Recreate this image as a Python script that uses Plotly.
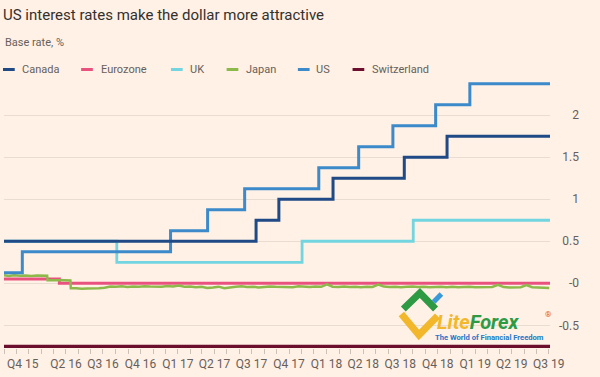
import pandas as pd
import plotly.graph_objects as go

# ---------------- data ----------------
x_start = "2015-11-01"
x_end = "2019-07-04"

canada_dates = ["2015-11-01", "2017-07-12", "2017-09-06", "2018-01-17", "2018-07-11", "2018-10-24", "2019-07-04"]
canada_vals = [0.5, 0.75, 1.0, 1.25, 1.5, 1.75, 1.75]

eurozone_dates = ["2015-11-01", "2016-03-16", "2019-07-04"]
eurozone_vals = [0.05, 0.0, 0.0]

uk_dates = ["2015-11-01", "2016-08-04", "2017-11-02", "2018-08-02", "2019-07-04"]
uk_vals = [0.5, 0.25, 0.5, 0.75, 0.75]

us_dates = ["2015-11-01", "2015-12-16", "2016-12-14", "2017-03-15", "2017-06-14", "2017-12-13",
            "2018-03-21", "2018-06-13", "2018-09-26", "2018-12-19", "2019-07-04"]
us_vals = [0.125, 0.375, 0.625, 0.875, 1.125, 1.375, 1.625, 1.875, 2.125, 2.375, 2.375]

swiss_dates = ["2015-11-01", "2019-07-04"]
swiss_vals = [-0.75, -0.75]

japan_early_dates = ["2015-11-01", "2015-11-12", "2015-11-26", "2015-12-10", "2015-12-24", "2016-01-07",
                     "2016-01-21", "2016-02-04", "2016-02-15", "2016-02-16", "2016-03-01", "2016-03-15",
                     "2016-03-29", "2016-04-12", "2016-04-13"]
japan_early_vals = [0.095, 0.088, 0.097, 0.090, 0.094, 0.086, 0.092, 0.088, 0.090, 0.035, 0.038,
                    0.032, 0.036, 0.034, -0.058]
japan_late_start = "2016-04-26"
japan_late_vals = [
    -0.060, -0.066, -0.062, -0.063, -0.058, -0.052,
    -0.038, -0.042, -0.036, -0.043, -0.037, -0.041, -0.034, -0.039, -0.043, -0.040,
    -0.031, -0.039, -0.027, -0.041, -0.038, -0.046, -0.041, -0.055, -0.049, -0.040,
    -0.058, -0.046, -0.041, -0.036, -0.045, -0.040, -0.050, -0.043, -0.037, -0.041,
    -0.043, -0.038, -0.046, -0.036, -0.041, -0.045, -0.039, -0.042, -0.012, -0.040,
    -0.044, -0.038, -0.045, -0.041, -0.047, -0.040, -0.043, -0.015, -0.039, -0.044,
    -0.040, -0.046, -0.042, -0.038, -0.045, -0.041, -0.047, -0.043, -0.040, -0.046,
    -0.042, -0.048, -0.044, -0.041, -0.046, -0.043, -0.048, -0.044, -0.018, -0.045,
    -0.049, -0.044, -0.047, -0.020, -0.046, -0.050, -0.052, -0.055]

quarter_tick_dates = ["2016-04-01", "2016-07-01", "2016-10-01", "2017-01-01", "2017-04-01", "2017-07-01",
                      "2017-10-01", "2018-01-01", "2018-04-01", "2018-07-01", "2018-10-01", "2019-01-01",
                      "2019-04-01", "2019-07-01"]
quarter_tick_labels = ["Q2 16", "Q3 16", "Q4 16", "Q1 17", "Q2 17", "Q3 17", "Q4 17", "Q1 18", "Q2 18",
                       "Q3 18", "Q4 18", "Q1 19", "Q2 19", "Q3 19"]
first_label = "Q4 15"

y_range = [-0.77, 2.55]
y_tick_vals = [-0.5, 0, 0.5, 1, 1.5, 2]
y_tick_text = ["-0.5", "-0", "0.5", "1", "1.5", "2"]

legend_names = ["Canada", "Eurozone", "UK", "Japan", "US", "Switzerland"]

# ---------------- styling ----------------
BG = "#FFF1E5"
colors = {
    "Canada": "#1F4A86",
    "Eurozone": "#E9527F",
    "UK": "#72D5DF",
    "Japan": "#8DB94B",
    "US": "#3C8ACA",
    "Switzerland": "#6C0E2E",
}
FONT = "Roboto"
GREY = "#66605C"

W, H = 600, 377
M_L, M_R = 4, 4
PLOT_R = 563.3          # right end of x axis, px
T_PX, B_PX = 69, 348


def px(x):
    # paper coordinates span the area inside the margins
    return (x - M_L) / (W - M_L - M_R)


def py(y):
    return (B_PX - y) / (B_PX - T_PX)


japan_late_dates = pd.date_range(japan_late_start, periods=len(japan_late_vals), freq="14D")
japan_dates = list(pd.to_datetime(japan_early_dates)) + list(japan_late_dates)
japan_vals = japan_early_vals + japan_late_vals

month_ticks = pd.date_range(x_start, "2019-07-01", freq="MS")
qmap = dict(zip(pd.to_datetime(quarter_tick_dates), quarter_tick_labels))
month_text = [qmap.get(d, "") for d in month_ticks]

fig = go.Figure()
series = [
    ("Switzerland", swiss_dates, swiss_vals, "hv", 3.2),
    ("Eurozone", eurozone_dates, eurozone_vals, "hv", 3),
    ("Japan", japan_dates, japan_vals, "linear", 2.5),
    ("UK", uk_dates, uk_vals, "hv", 2.8),
    ("US", us_dates, us_vals, "hv", 3),
    ("Canada", canada_dates, canada_vals, "hv", 3),
]
for name, xd, yd, shape, w in series:
    fig.add_trace(go.Scatter(x=xd, y=yd, mode="lines", name=name,
                             line=dict(color=colors[name], width=w, shape=shape),
                             showlegend=False))
# empty trace that carries the right-hand value axis (labels right-aligned at the page edge)
fig.add_trace(go.Scatter(x=[None], y=[None], xaxis="x2", yaxis="y2", showlegend=False, hoverinfo="skip"))

# custom legend (short line swatches + labels)
leg_line_x = [3, 83, 175, 232, 305, 361]
leg_text_x = [20, 101, 192, 250, 322, 379]
leg_y = 69.5
shapes = []
annotations = []
for name, lx, tx in zip(legend_names, leg_line_x, leg_text_x):
    shapes.append(dict(type="line", xref="paper", yref="paper", x0=px(lx), x1=px(lx + 12),
                       y0=py(leg_y), y1=py(leg_y), line=dict(color=colors[name], width=3)))
    annotations.append(dict(text=name, xref="paper", yref="paper", x=px(tx), y=py(leg_y),
                            xanchor="left", yanchor="middle", showarrow=False,
                            font=dict(family=FONT, size=11, color=GREY)))

# first (clipped) quarter label
annotations.append(dict(text=first_label, xref="paper", yref="paper", x=px(5), y=py(364),
                        xanchor="left", yanchor="middle", showarrow=False,
                        font=dict(family=FONT, size=12, color=GREY)))

# subtitle
annotations.append(dict(text="Base rate, %", xref="paper", yref="paper", x=px(3), y=py(42),
                        xanchor="left", yanchor="middle", showarrow=False,
                        font=dict(family=FONT, size=11, color=GREY)))


# watermark logo
def path(points):
    return "M " + " L ".join(f"{px(a)},{py(b)}" for a, b in points)

shapes.append(dict(type="path", xref="paper", yref="paper", path=path([(411, 314), (429, 335), (448, 316)]),
                   line=dict(color="#F2B72B", width=7)))
shapes.append(dict(type="path", xref="paper", yref="paper", path=path([(413, 309), (430, 293), (446, 309)]),
                   line=dict(color="#2E9A44", width=7)))
shapes.append(dict(type="path", xref="paper", yref="paper", path=path([(444, 302), (452, 294)]),
                   line=dict(color="#3A9AD9", width=5)))
annotations.append(dict(text="<b><i><span style='color:#F2B72B'>Lite</span><span style='color:#2E9A44'>Forex</span></i></b>",
                        xref="paper", yref="paper", x=px(445), y=py(322), xanchor="left", yanchor="middle",
                        showarrow=False, font=dict(family=FONT, size=20)))
annotations.append(dict(text="®", xref="paper", yref="paper", x=px(556), y=py(314), xanchor="left",
                        yanchor="middle", showarrow=False, font=dict(family=FONT, size=8, color="#E0562B")))
annotations.append(dict(text="<b>The World of Financial Freedom</b>", xref="paper", yref="paper", x=px(443),
                        y=py(337), xanchor="left", yanchor="middle", showarrow=False,
                        font=dict(family=FONT, size=7.6, color="#2478C8")))

fig.update_layout(
    width=W, height=H,
    margin=dict(l=M_L, r=M_R, t=T_PX, b=H - B_PX),
    paper_bgcolor=BG, plot_bgcolor="rgba(0,0,0,0)",
    font=dict(family=FONT, size=12, color=GREY),
    title=dict(text="US interest rates make the dollar more attractive", x=3 / W, xanchor="left",
               y=1 - 15 / H, yanchor="middle", xref="container", yref="container",
               font=dict(family=FONT, size=15, color="#33302E")),
    showlegend=False,
    shapes=shapes,
    annotations=annotations,
    xaxis=dict(type="date", range=[x_start, x_end], domain=[0, px(PLOT_R)],
               tickmode="array", tickvals=month_ticks, ticktext=month_text,
               ticks="outside", ticklen=5, tickcolor="#CCC1B7", tickwidth=1,
               showgrid=False, zeroline=False, showline=False,
               tickfont=dict(family=FONT, size=12, color=GREY)),
    yaxis=dict(range=y_range, tickmode="array", tickvals=y_tick_vals, showticklabels=False, ticks="",
               showgrid=True, gridcolor="#E9DCD0", gridwidth=1, zeroline=False, showline=False),
    xaxis2=dict(domain=[0, 1], range=[0, 1], anchor="y2", visible=False, fixedrange=True),
    yaxis2=dict(range=y_range, anchor="x2", side="right", ticklabelposition="inside",
                tickmode="array", tickvals=y_tick_vals, ticktext=y_tick_text, ticks="",
                showgrid=False, zeroline=False, showline=False,
                tickfont=dict(family=FONT, size=12, color=GREY)),
)

post = (
    "document.documentElement.style.overflow='hidden';"
    "document.body.style.margin='0';document.body.style.overflow='hidden';"
    "var gd=document.getElementById('{plot_id}');"
    "if(gd){gd.style.overflow='hidden';"
    "var p=gd.parentElement;p.style.overflow='hidden';p.style.width='600px';p.style.height='377px';}"
)
fig.write_html("out.html", config={"displayModeBar": False, "responsive": False}, post_script=post)
